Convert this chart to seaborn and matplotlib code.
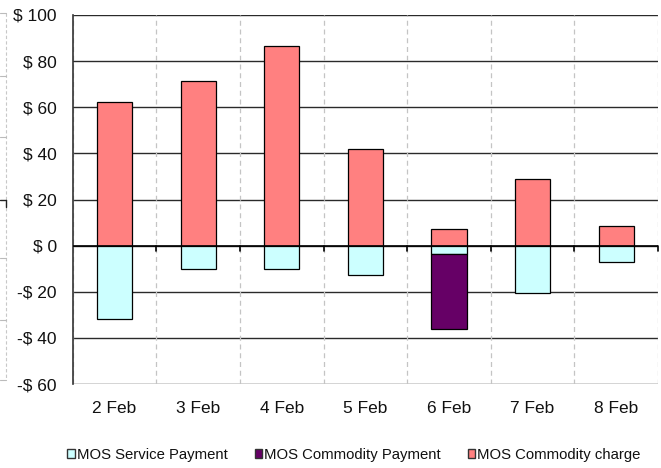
import pandas as pd
import seaborn as sns
import matplotlib.pyplot as plt
import matplotlib.ticker as ticker
from matplotlib.patches import Patch
from matplotlib.lines import Line2D

days = ['2 Feb', '3 Feb', '4 Feb', '5 Feb', '6 Feb', '7 Feb', '8 Feb']
service_payment = [-31.7, -10.0, -10.0, -12.6, -3.6, -20.4, -7.2]
commodity_payment = [0.0, 0.0, 0.0, 0.0, -32.6, 0.0, 0.0]
commodity_charge = [62.1, 71.5, 86.6, 41.7, 7.1, 28.7, 8.6]

df = pd.DataFrame({
    'Day': days,
    'service': service_payment,
    'payment': commodity_payment,
    'charge': commodity_charge,
})

c_service = '#CCFFFF'
c_payment = '#660066'
c_charge = '#FF8080'

sns.set_style('white')
plt.rcParams['font.family'] = ['Liberation Sans', 'DejaVu Sans']

W, H = 661, 468
fig = plt.figure(figsize=(W / 100, H / 100), dpi=100)
ax = fig.add_axes([72.7 / W, 1 - 384 / H, (658 - 72.7) / W, (384 - 15) / H])

bar_kw = dict(width=0.42, edgecolor='black', linewidth=0.9, zorder=3)
sns.barplot(data=df, x='Day', y='charge', color=c_charge, saturation=1, ax=ax, **bar_kw)
sns.barplot(data=df, x='Day', y='service', color=c_service, saturation=1, ax=ax, **bar_kw)
pay = df[df['payment'] != 0]
sns.barplot(data=pay, x='Day', y='payment', color=c_payment, saturation=1, ax=ax,
            order=days, bottom=pay['service'].values, **bar_kw)

ax.set_ylim(-60, 100)
ax.set_xlim(-0.5, len(days) - 0.5)
ax.yaxis.set_major_locator(ticker.MultipleLocator(20))
ax.yaxis.set_major_formatter(ticker.FuncFormatter(
    lambda v, pos: f'$ {v:.0f}' if v >= 0 else f'-$ {abs(v):.0f}'))

ax.grid(axis='y', color='#2a2a2a', linewidth=1.0, zorder=0)
for b in range(len(days) + 1):
    ax.axvline(b - 0.5, color='#c4c4c4', linestyle=(0, (4, 3)), linewidth=0.9, zorder=1)
ax.axhline(0, color='black', linewidth=1.2, zorder=4)
for b in range(1, len(days) + 1):
    ax.plot([b - 0.5, b - 0.5], [0, -2.2], color='black', linewidth=1.2, zorder=4,
            clip_on=False)

for s in ['top', 'right', 'bottom']:
    ax.spines[s].set_visible(False)
ax.spines['left'].set_color('#333333')
ax.spines['left'].set_linewidth(1.2)

ax.tick_params(axis='y', direction='out', length=4.5, width=1, color='#333333',
               labelsize=12.5, pad=7, labelcolor='#111111')
ax.tick_params(axis='x', length=0, labelsize=12.5, pad=12, labelcolor='#111111')
ax.set_xlabel('')
ax.set_ylabel('')

# fragment of a neighbouring chart frame at the far left edge
fig.add_artist(Line2D([6 / W, 6 / W], [1 - 13 / H, 1 - 380 / H], color='#c8c8c8',
                      linestyle=(0, (3, 2)), linewidth=0.8))
for yy in [13, 76, 137, 258, 320, 380]:
    fig.add_artist(Line2D([0, 6 / W], [1 - yy / H, 1 - yy / H], color='#bbbbbb',
                          linewidth=0.8))
fig.add_artist(Line2D([0, 6 / W], [1 - 200 / H, 1 - 200 / H], color='#222222',
                      linewidth=1.0))
fig.add_artist(Line2D([6 / W, 6 / W], [1 - 200 / H, 1 - 207 / H], color='#222222',
                      linewidth=1.0))

handles = [Patch(facecolor=c_service, edgecolor='#333333', label='MOS Service Payment'),
           Patch(facecolor=c_payment, edgecolor='#333333', label='MOS Commodity Payment'),
           Patch(facecolor=c_charge, edgecolor='#333333', label='MOS Commodity charge')]
fig.legend(handles=handles, loc='center', bbox_to_anchor=(354 / W, 1 - 455 / H), ncol=3,
           frameon=False, fontsize=10.7, handlelength=0.5, handleheight=0.5,
           handletextpad=0.15, columnspacing=1.8, borderpad=0, labelcolor='#111111')

fig.savefig('out.png', dpi=100)
